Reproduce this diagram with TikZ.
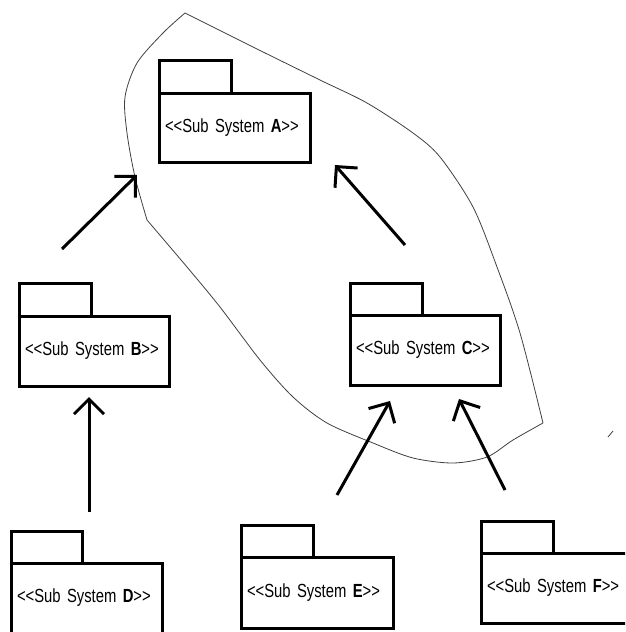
\documentclass[tikz,border=0pt]{standalone}
\usepackage{fontspec}
\setmainfont{Liberation Sans}[Ligatures=TeXOff, FakeStretch=0.78]
\usetikzlibrary{arrows.meta, positioning}

\begin{document}
\begin{tikzpicture}[
  x=1pt, y=-1pt,
  pkg/.style={draw, line width=3pt, outer sep=0pt, inner xsep=6pt, inner ysep=0pt,
              text width=139pt, minimum height=70pt, align=left, anchor=north west,
              font=\fontsize{19}{22}\selectfont},
  pkgtab/.style={draw, line width=3pt, outer sep=0pt, inner sep=0pt,
                 minimum width=72pt, minimum height=33pt, anchor=south west},
  arr/.style={-{Straight Barb[length=15pt, width=30pt]}, line width=3pt},
  blob/.style={draw=black!75, line width=0.8pt},
]
\useasboundingbox (0,0) rectangle (625,632);
\clip (0,0) rectangle (625,632);

%% --- grouping outline ---
\draw[blob] plot[smooth, tension=0.5] coordinates
  {(185,13) (163,33) (137,63) (125,97) (127,133) (135,177) (147,220)};
\draw[blob] plot[smooth, tension=0.5] coordinates
  {(147,220) (187,267) (220,307) (260,360) (293,397) (327,423) (373,443)
   (413,458) (453,463) (487,457) (513,440) (543,423)};
\draw[blob] plot[smooth, tension=0.5] coordinates
  {(543,423) (520,333) (497,267) (473,207) (440,157) (413,133) (367,103)
   (320,80) (253,47) (185,13)};
\draw[blob] (608,437) -- (613,431);

%% --- packages ---
\node[pkg, minimum height=69pt] (subA) at (159,93) {<<Sub System \textbf{A}>>};
\node[pkgtab] (subA-tab) at (subA.north west) {};

\node[pkg, text width=138pt] (subB) at (19,316) {<<Sub System \textbf{B}>>};
\node[pkgtab] (subB-tab) at (subB.north west) {};

\node[pkg, text width=138pt] (subC) at (350,315) {<<Sub System \textbf{C}>>};
\node[pkgtab, minimum height=32pt] (subC-tab) at (subC.north west) {};

\node[pkg] (subD) at (11,563) {<<Sub System \textbf{D}>>};
\node[pkgtab, minimum width=71pt, minimum height=32pt] (subD-tab) at (subD.north west) {};

\node[pkg, text width=140pt, minimum height=71pt] (subE) at (241,557) {<<Sub System \textbf{E}>>};
\node[pkgtab, minimum height=32pt] (subE-tab) at (subE.north west) {};

\node[pkg] (subF) at (481,553) {<<Sub System \textbf{F}>>};
\node[pkgtab, minimum height=32pt] (subF-tab) at (subF.north west) {};

%% --- dependencies ---
\draw[arr] ([shift={(-32,-67)}]subB.north) -- ([shift={(-22,13)}]subA.south west);
\draw[arr] ([shift={(-20,-70)}]subC.north) -- ([shift={(25,3)}]subA.south east);
\draw[arr] ([shift={(2.5,-51)}]subD.north) -- ([shift={(-5,11)}]subB.south);
\draw[arr] ([shift={(20,-62)}]subE.north) -- ([shift={(-35,16)}]subC.south);
\draw[arr] ([shift={(-51.5,-63)}]subF.north) -- ([shift={(34,14)}]subC.south);

\end{tikzpicture}
\end{document}
